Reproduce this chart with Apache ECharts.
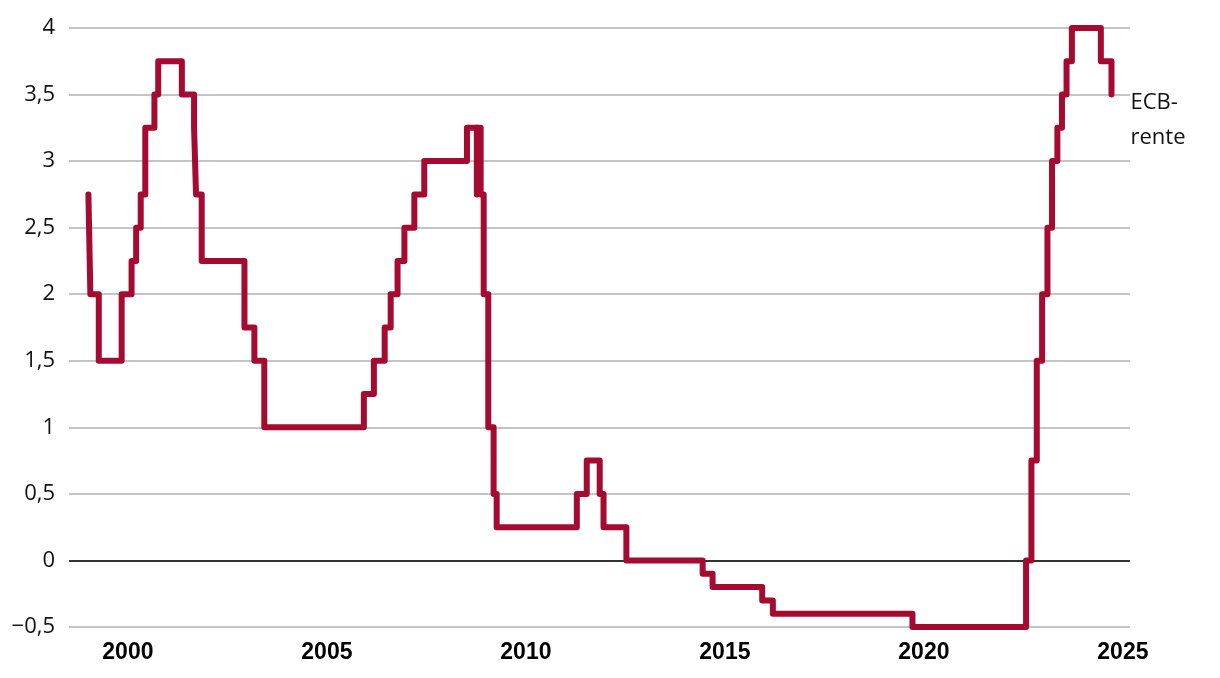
<!DOCTYPE html>
<html>
<head>
<meta charset="utf-8">
<script src="https://cdn.jsdelivr.net/npm/echarts@6/dist/echarts.min.js"></script>
<style>html,body{margin:0;padding:0;background:#fff}#c{width:1220px;height:678px}</style>
</head>
<body>
<div id="c"></div>
<script>
// ECB deposit rate: change dates and new rate (%)
const dates = [
 '1999-01-04','1999-01-22','1999-04-09','1999-11-05','2000-02-04','2000-03-17','2000-04-28','2000-06-09',
 '2000-09-01','2000-10-06','2001-05-11','2001-08-31','2001-09-18','2001-11-09','2002-12-06','2003-03-07',
 '2003-06-06','2005-12-06','2006-03-08','2006-06-15','2006-08-09','2006-10-11','2006-12-13','2007-03-14',
 '2007-06-13','2008-07-09','2008-10-08','2008-10-09','2008-11-12','2008-12-10','2009-01-21','2009-03-11',
 '2009-04-08','2011-04-13','2011-07-13','2011-11-09','2011-12-14','2012-07-11','2014-06-11','2014-09-10',
 '2015-12-09','2016-03-16','2019-09-18','2022-07-27','2022-09-14','2022-11-02','2022-12-21','2023-02-08',
 '2023-03-22','2023-05-10','2023-06-21','2023-08-02','2023-09-20','2024-06-12','2024-09-18'
];
const rates = [
 2.75,2.00,1.50,2.00,2.25,2.50,2.75,3.25,
 3.50,3.75,3.50,3.25,2.75,2.25,1.75,1.50,
 1.00,1.25,1.50,1.75,2.00,2.25,2.50,2.75,
 3.00,3.25,2.75,3.25,2.75,2.00,1.00,0.50,
 0.25,0.50,0.75,0.50,0.25,0.00,-0.10,-0.20,
 -0.30,-0.40,-0.50,0.00,0.75,1.50,2.00,2.50,
 3.00,3.25,3.50,3.75,4.00,3.75,3.50
];
const xTickYears = [2000, 2005, 2010, 2015, 2020, 2025];
const yTicks = [-0.5, 0, 0.5, 1, 1.5, 2, 2.5, 3, 3.5, 4];
const seriesName = 'ECB-\nrente';
const xMinDate = '1998-07-10';
const xMaxDate = '2025-03-07';

function toYear(s) {
  const d = new Date(s + 'T00:00:00Z');
  const y = d.getUTCFullYear();
  const start = Date.UTC(y, 0, 1), end = Date.UTC(y + 1, 0, 1);
  return y + (d.getTime() - start) / (end - start);
}

const chart = echarts.init(document.getElementById('c'), null, {renderer: 'canvas'});
const data = dates.map((d, i) => [toYear(d), rates[i]]);
const gridColors = yTicks.map(v => v === 0 ? '#333333' : '#c4c4c4');
const fmtY = v => String(v).replace('.', ',').replace('-', '\u2212');

chart.setOption({
  animation: false,
  grid: {left: 69, right: 90, top: 28, bottom: 51},
  xAxis: {
    type: 'value',
    min: toYear(xMinDate),
    max: toYear(xMaxDate),
    axisLine: {show: false},
    axisTick: {show: false},
    splitLine: {show: false},
    axisLabel: {
      customValues: xTickYears,
      formatter: v => String(Math.round(v)),
      color: '#000', fontSize: 23, fontWeight: 'bold',
      fontFamily: 'Liberation Sans, Arial, sans-serif',
      margin: 14, hideOverlap: false
    }
  },
  yAxis: {
    type: 'value',
    min: -0.5, max: 4, interval: 0.5,
    axisLine: {show: false},
    axisTick: {show: false},
    splitLine: {show: true, lineStyle: {color: gridColors, width: 2}},
    axisLabel: {
      formatter: fmtY, color: '#111', fontSize: 22,
      fontFamily: 'Open Sans, sans-serif', margin: 14
    }
  },
  series: [{
    name: seriesName,
    type: 'line',
    step: 'end',
    data: data,
    showSymbol: false,
    lineStyle: {color: '#a50b30', width: 6, cap: 'round', join: 'round'},
    endLabel: {
      show: true, formatter: seriesName, color: '#111', fontSize: 22,
      fontFamily: 'Open Sans, sans-serif', lineHeight: 35, offset: [11, 26]
    }
  }]
});
</script>
</body>
</html>
